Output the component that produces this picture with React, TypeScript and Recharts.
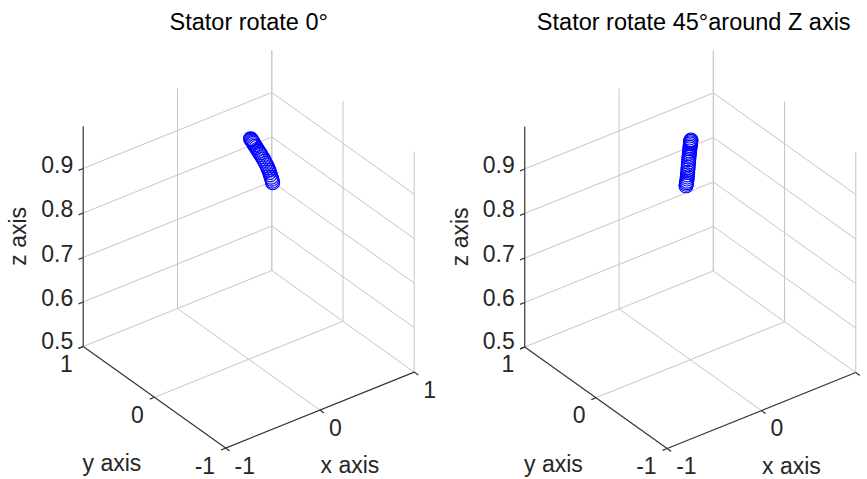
import React from "react";
import { ScatterChart, Scatter, XAxis, YAxis, ReferenceLine } from "recharts";

const H = 479;
const FONT = "'Liberation Sans', Arial, Helvetica, sans-serif";

// axis ticks
const xTicks = [-1, 0, 1];
const yTicks = [-1, 0, 1];
const zTicks = [0.5, 0.6, 0.7, 0.8, 0.9];
const zMin = 0.5;
const zMax = 0.995;

const titles = ["Stator rotate 0°", "Stator rotate 45°around Z axis"];

// stator rotate 0 deg
const x0 = [0.02, 0.025, 0.03, 0.038, 0.045, 0.052, 0.06, 0.07, 0.08, 0.092, 0.104, 0.116, 0.128,
  0.142, 0.155, 0.168, 0.18, 0.192, 0.203, 0.213, 0.222, 0.23, 0.238, 0.245, 0.25, 0.254];
const y0 = [0, 0, 0, 0, 0, 0, 0, 0, 0, 0, 0, 0, 0, 0, 0, 0, 0, 0, 0, 0, 0, 0, 0, 0, 0, 0];
const z0 = [0.994, 0.992, 0.99, 0.987, 0.984, 0.981, 0.977, 0.973, 0.969, 0.964, 0.959, 0.954, 0.949,
  0.943, 0.937, 0.931, 0.925, 0.919, 0.913, 0.907, 0.901, 0.895, 0.889, 0.884, 0.879, 0.875];

// stator rotate 45 deg around Z
const x45 = [0, 0, 0, 0, 0, 0, 0, 0, 0, 0, 0, 0, 0, 0, 0, 0, 0, 0, 0, 0, 0, 0, 0, 0, 0];
const y45 = [-0.01, -0.008, -0.006, -0.004, -0.002, 0, 0.003, 0.006, 0.009, 0.012, 0.015, 0.018, 0.021,
  0.024, 0.027, 0.03, 0.033, 0.036, 0.039, 0.042, 0.045, 0.048, 0.052, 0.056, 0.06];
const z45 = [0.995, 0.993, 0.991, 0.988, 0.985, 0.981, 0.977, 0.973, 0.968, 0.963, 0.958, 0.953, 0.947,
  0.941, 0.935, 0.929, 0.923, 0.917, 0.911, 0.906, 0.901, 0.896, 0.892, 0.888, 0.884];

// view az -37.5, el 30 -> screen vectors per data unit
const EX = [94.3, 38];
const EY = [-71.2, 50.8];
const EZ = 445;

type P = { u: number; v: number };
const proj = (x: number, y: number, z: number): P => ({
  u: EX[0] * x + EY[0] * y,
  v: EX[1] * x + EY[1] * y + EZ * (z - zMin),
});
const off = (p: P, du: number, dv: number): P => ({ u: p.u + du, v: p.v + dv });

const GRID = "#c6c6c6";
const AXIS = "#333333";
const TXT = "#262626";

const nx = Math.hypot(EX[0], EX[1]);
const ny = Math.hypot(EY[0], EY[1]);
const tickX = (p: P) => off(p, (-EX[0] / nx) * 5, (-EX[1] / nx) * 5);
const tickY = (p: P) => off(p, (-EY[0] / ny) * 5, (-EY[1] / ny) * 5);

const TextShape = (props: any) => {
  const { cx, cy, payload } = props;
  return (
    <text
      x={cx}
      y={cy}
      textAnchor={payload.anchor}
      fontSize={payload.size}
      fill={payload.color}
      fontFamily={FONT}
      transform={payload.rot ? `rotate(${payload.rot} ${cx} ${cy})` : undefined}
    >
      {payload.text}
    </text>
  );
};

const Ring = (props: any) => (
  <circle cx={props.cx} cy={props.cy} r={7} fill="none" stroke="#0000ff" strokeWidth={1.1} />
);

function Panel({ title, xs, ys, zs, width, cx, cy, titleDx }: any) {
  const pts = xs.map((x: number, i: number) => proj(x, ys[i], zs[i]));

  const grid: [P, P][] = [];
  zTicks.forEach((z) => {
    grid.push([proj(-1, 1, z), proj(1, 1, z)]);
    grid.push([proj(1, 1, z), proj(1, -1, z)]);
  });
  xTicks.filter((t) => t > -1).forEach((t) => grid.push([proj(t, 1, zMin), proj(t, 1, zMax)]));
  yTicks.forEach((t) => grid.push([proj(1, t, zMin), proj(1, t, zMax)]));
  xTicks.filter((t) => t > -1 && t < 1).forEach((t) => grid.push([proj(t, 1, zMin), proj(t, -1, zMin)]));
  yTicks.filter((t) => t > -1 && t < 1).forEach((t) => grid.push([proj(-1, t, zMin), proj(1, t, zMin)]));

  const axes: [P, P][] = [
    [proj(-1, 1, zMin), proj(-1, 1, zMax)],
    [proj(-1, 1, zMin), proj(-1, -1, zMin)],
    [proj(-1, -1, zMin), proj(1, -1, zMin)],
  ];
  zTicks.forEach((z) => axes.push([proj(-1, 1, z), tickX(proj(-1, 1, z))]));
  yTicks.forEach((t) => axes.push([proj(-1, t, zMin), tickX(proj(-1, t, zMin))]));
  xTicks.forEach((t) => axes.push([proj(t, -1, zMin), tickY(proj(t, -1, zMin))]));

  const labels: any[] = [];
  zTicks.forEach((z) =>
    labels.push({ ...off(proj(-1, 1, z), -10, z === zMin ? -2 : -4), text: String(z), anchor: "end", size: 23, color: TXT })
  );
  yTicks.forEach((t) =>
    labels.push({ ...off(proj(-1, t, zMin), -10.5, -25.5), text: String(t), anchor: "end", size: 23, color: TXT })
  );
  xTicks.forEach((t) =>
    labels.push({ ...off(proj(t, -1, zMin), 9, -25.5), text: String(t), anchor: "start", size: 23, color: TXT })
  );
  labels.push({ ...off(proj(-1, 0, zMin), -42.5, -74), text: "y axis", anchor: "middle", size: 23, color: TXT });
  labels.push({ ...off(proj(0, -1, zMin), 30, -63), text: "x axis", anchor: "middle", size: 23, color: TXT });
  labels.push({ ...off(proj(-1, 1, (zMin + zMax) / 2), -57, 0), text: "z axis", anchor: "middle", size: 23, color: TXT, rot: -90 });
  labels.push({ u: titleDx, v: cy - 30, text: title, anchor: "middle", size: 23.5, color: "#000" });

  // the figure edge crops anything past the panel, as in the exported image
  const shown = labels.filter((l) => l.u + cx < width - 8);

  return (
    <ScatterChart width={width} height={H} margin={{ top: 0, right: 0, bottom: 0, left: 0 }}>
      <XAxis type="number" dataKey="u" domain={[-cx, width - cx]} hide allowDataOverflow />
      <YAxis type="number" dataKey="v" domain={[cy - H, cy]} hide allowDataOverflow />
      {grid.map(([a, b], i) => (
        <ReferenceLine key={"g" + i} segment={[{ x: a.u, y: a.v }, { x: b.u, y: b.v }]} stroke={GRID} strokeWidth={1} ifOverflow="visible" />
      ))}
      {axes.map(([a, b], i) => (
        <ReferenceLine key={"a" + i} segment={[{ x: a.u, y: a.v }, { x: b.u, y: b.v }]} stroke={AXIS} strokeWidth={1.2} ifOverflow="visible" />
      ))}
      <Scatter data={pts} shape={Ring} isAnimationActive={false} />
      <Scatter data={shown} shape={TextShape} isAnimationActive={false} />
    </ScatterChart>
  );
}

export default function App() {
  return (
    <div style={{ position: "absolute", left: 0, top: 0, width: 867, height: H, background: "#fff", display: "flex" }}>
      <Panel title={titles[0]} xs={x0} ys={y0} zs={z0} width={440} cx={248.7} cy={359.3} titleDx={0} />
      <Panel title={titles[1]} xs={x45} ys={y45} zs={z45} width={427} cx={250.25} cy={359.75} titleDx={3.5} />
    </div>
  );
}
